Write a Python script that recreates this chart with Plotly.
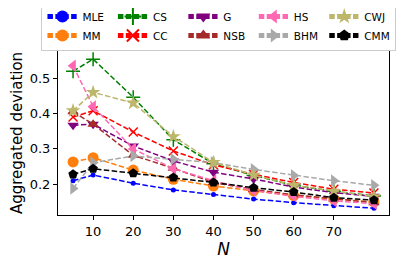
import plotly.graph_objects as go

N = [5, 10, 20, 30, 40, 50, 60, 70, 80]

MLE = [0.210, 0.226, 0.203, 0.184, 0.171, 0.158, 0.148, 0.139, 0.132]
MM  = [0.263, 0.275, 0.240, 0.214, 0.195, 0.181, 0.168, 0.158, 0.150]
CS  = [0.520, 0.554, 0.446, 0.326, 0.258, 0.225, 0.197, 0.180, 0.167]
CC  = [0.390, 0.408, 0.348, 0.294, 0.255, 0.228, 0.205, 0.186, 0.175]
G   = [0.367, 0.370, 0.308, 0.266, 0.234, 0.215, 0.192, 0.176, 0.166]
NSB = [0.405, 0.370, 0.282, 0.245, 0.205, 0.185, 0.170, 0.158, 0.148]
HS  = [0.535, 0.420, 0.300, 0.244, 0.210, 0.182, 0.166, 0.153, 0.145]
BHM = [0.188, 0.261, 0.280, 0.271, 0.261, 0.242, 0.225, 0.210, 0.197]
CWJ = [0.408, 0.460, 0.430, 0.335, 0.262, 0.226, 0.197, 0.180, 0.165]
CMM = [0.228, 0.244, 0.231, 0.219, 0.205, 0.190, 0.178, 0.162, 0.155]

x_ticks = [10, 20, 30, 40, 50, 60, 70]
y_ticks = [0.2, 0.3, 0.4, 0.5]

series = [
    ("MLE", MLE, "#0000ff", "circle", 5, 1),
    ("MM", MM, "#ff7f0e", "circle", 11, 6),
    ("CS", CS, "#008000", "cross-thin-open", 10, 2),
    ("CC", CC, "#ff0000", "x-thin-open", 9, 7),
    ("G", G, "#800080", "triangle-down", 10, 3),
    ("NSB", NSB, "#a52a2a", "triangle-up", 10, 8),
    ("HS", HS, "#ff69b4", "triangle-left", 11, 4),
    ("BHM", BHM, "#a9a9a9", "triangle-right", 11, 9),
    ("CWJ", CWJ, "#bdb76b", "star", 11, 5),
    ("CMM", CMM, "#000000", "pentagon", 10, 10),
]

fig = go.Figure()
for name, vals, col, sym, sz, rank in series:
    marker = dict(symbol=sym, size=sz, color=col)
    if "thin" in sym:
        marker["line"] = dict(color=col, width=1.5)
    else:
        marker["line"] = dict(width=0)
    fig.add_trace(go.Scatter(
        x=N, y=vals, name=name, mode="lines+markers",
        line=dict(color=col, width=1.5, dash="5.5px,2.4px"),
        marker=marker, legendrank=rank,
    ))

# page body has an 8px default margin, so the figure is offset by 8px
fig.update_layout(
    width=415, height=266,
    margin=dict(l=50, r=34, t=43, b=59, autoexpand=False),
    paper_bgcolor="white", plot_bgcolor="white",
    font=dict(family="DejaVu Sans", color="black"),
    legend=dict(
        orientation="h", x=-0.05, y=1.305, xanchor="left", yanchor="top",
        font=dict(size=10.5), itemsizing="constant",
        bordercolor="#cccccc", borderwidth=1, bgcolor="white",
        tracegroupgap=0,
    ),
    xaxis=dict(
        range=[1.25, 83.75], tickvals=x_ticks, ticks="outside", ticklen=4,
        tickcolor="black", showline=True, linecolor="black", linewidth=1,
        mirror=True, showgrid=False, zeroline=False,
        tickfont=dict(size=13),
        title=dict(text="<i>N</i>", font=dict(size=17), standoff=1),
    ),
    yaxis=dict(
        range=[0.113, 0.577], tickvals=y_ticks, ticktext=["0.2", "0.3", "0.4", "0.5"],
        ticks="outside", ticklen=4,
        tickcolor="black", showline=True, linecolor="black", linewidth=1,
        mirror=True, showgrid=False, zeroline=False,
        tickfont=dict(size=13),
        title=dict(text="Aggregated deviation", font=dict(size=15), standoff=4),
    ),
)

fig.write_html("out.html")
